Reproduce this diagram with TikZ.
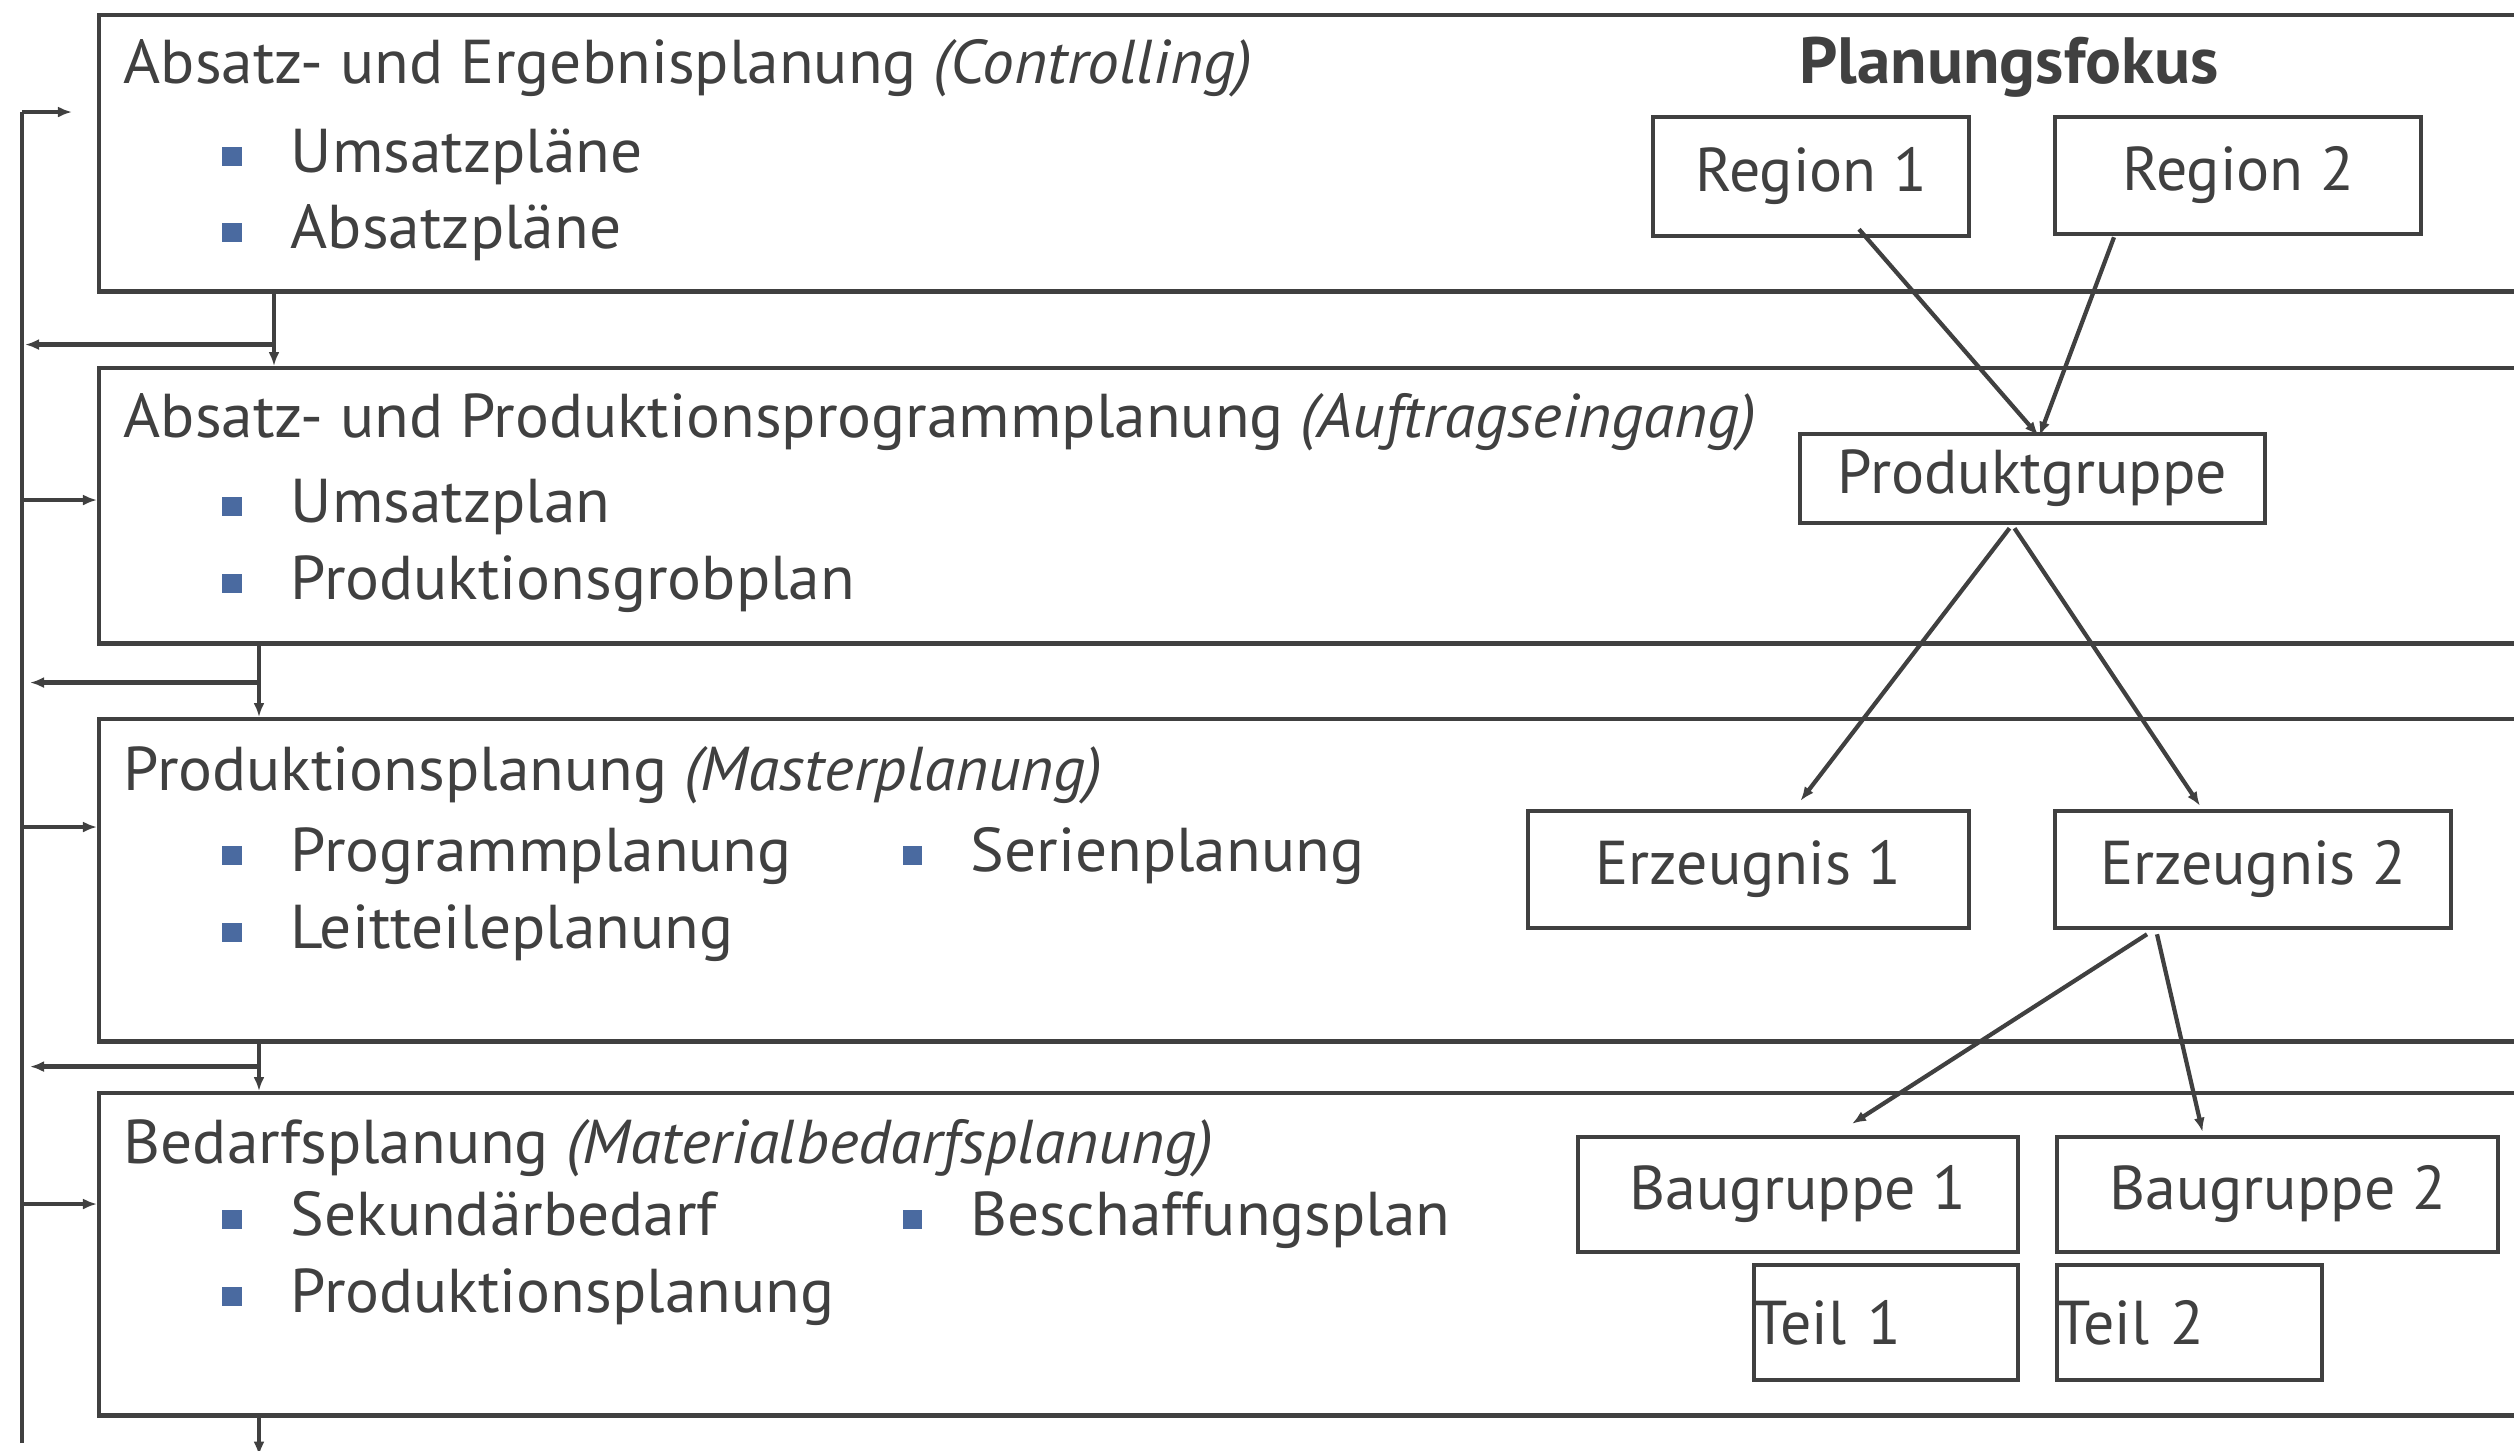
\documentclass[tikz,border=0pt]{standalone}
\usepackage{fontspec}
\setmainfont{PT Sans}[FakeStretch=1.025]
\newfontfamily\condfont{PT Sans}
\usetikzlibrary{arrows.meta,calc}
\definecolor{ink}{RGB}{64,64,64}
\definecolor{bul}{RGB}{74,106,160}
\tikzset{
  layer/.style={draw=ink, line width=1.25pt, rectangle, anchor=north west, inner sep=0pt, minimum width=25.5cm},
  ttl/.style={anchor=base west, inner sep=0pt, text=ink, font=\fontsize{17.6}{20}\selectfont},
  itm/.style={anchor=base west, inner sep=0pt, text=ink, font=\fontsize{17.6}{20}\selectfont},
  sq/.style={fill=bul, minimum size=0.19cm, inner sep=0pt},
  fbox/.style={draw=ink, line width=1.25pt, rectangle, inner sep=0pt, text=ink, font=\condfont\fontsize{17.6}{20}\selectfont},
  flow/.style={draw=ink, line width=1.2pt, -{Latex[length=0.14cm,width=0.11cm]}},
  plain/.style={draw=ink, line width=1.2pt}
}
\begin{document}
\begin{tikzpicture}[x=0.01cm,y=-0.01cm]
\useasboundingbox (0,0) rectangle (2514,1450);
\fill[white] (0,0) rectangle (2514,1450);
\clip (0,0) rectangle (2514,1450);

% layer boxes
\node[layer, minimum height=2.76cm] (L1) at (97,13) {};
\node[layer, minimum height=2.75cm] (L2) at (97,366) {};
\node[layer, minimum height=3.22cm] (L3) at (97,717) {};
\node[layer, minimum height=3.22cm] (L4) at (97,1091) {};

% box 1
\node[ttl] (t1) at (123,83) {Absatz- und Ergebnisplanung \textit{(Controlling)}};
\node[sq] (s11) at (232,156) {}; \node[itm] (i11) at (290,172) {Umsatzpläne};
\node[sq] (s12) at (232,232) {}; \node[itm] (i12) at (290,248) {Absatzpläne};
% box 2
\node[ttl] (t2) at (123,437) {Absatz- und Produktionsprogrammplanung \textit{(Auftragseingang)}};
\node[sq] (s21) at (232,506) {}; \node[itm] (i21) at (290,522) {Umsatzplan};
\node[sq] (s22) at (232,583) {}; \node[itm] (i22) at (290,599) {Produktionsgrobplan};
% box 3
\node[ttl] (t3) at (123,790) {Produktionsplanung \textit{(Masterplanung)}};
\node[sq] (s31) at (232,855) {}; \node[itm] (i31) at (290,871) {Programmplanung};
\node[sq] (s32) at (232,932) {}; \node[itm] (i32) at (290,948) {Leitteileplanung};
\node[sq] (s33) at (912,855) {}; \node[itm] (i33) at (970,871) {Serienplanung};
% box 4
\node[ttl] (t4) at (123,1163) {Bedarfsplanung \textit{(Materialbedarfsplanung)}};
\node[sq] (s41) at (232,1219) {}; \node[itm] (i41) at (290,1235) {Sekundärbedarf};
\node[sq] (s42) at (232,1296) {}; \node[itm] (i42) at (290,1312) {Produktionsplanung};
\node[sq] (s43) at (912,1219) {}; \node[itm] (i43) at (970,1235) {Beschaffungsplan};

% planning focus
\node[text=ink, font=\bfseries\fontsize{18.6}{21}\selectfont, inner sep=0pt] (pf) at (2009,67) {Planungsfokus};
\node[fbox, minimum width=3.16cm, minimum height=1.19cm] (r1) at (1811,176.5) {Region 1};
\node[fbox, minimum width=3.66cm, minimum height=1.17cm] (r2) at (2238,175.5) {Region 2};
\node[fbox, minimum width=4.65cm, minimum height=0.89cm] (pg) at (2032.5,478.5) {Produktgruppe};
\node[fbox, minimum width=4.41cm, minimum height=1.17cm] (e1) at (1748.5,869.5) {Erzeugnis 1};
\node[fbox, minimum width=3.96cm, minimum height=1.17cm] (e2) at (2253,869.5) {Erzeugnis 2};
\node[fbox, minimum width=4.40cm, minimum height=1.15cm] (b1) at (1798,1194.5) {Baugruppe 1};
\node[fbox, minimum width=4.41cm, minimum height=1.15cm] (b2) at (2277.5,1194.5) {Baugruppe 2};
\node[fbox, text width=2.64cm, align=left, minimum height=1.15cm] (p1) at (1886,1322.5) {Teil 1};
\node[fbox, text width=2.65cm, align=left, minimum height=1.15cm] (p2) at (2189.5,1322.5) {Teil 2};

\draw[flow] ($(r1.south)+(48,-9)$) -- ($(pg.north)+(6,4)$);
\draw[flow] ($(r2.south)+(-124,1)$) -- ($(pg.north)+(7,4)$);
\draw[flow] ($(pg.south)+(-23,3)$) -- ($(e1.north)+(52,-8)$);
\draw[flow] ($(pg.south)+(-18,3)$) -- ($(e2.north)+(-53,-3)$);
\draw[flow] ($(e2.south)+(-106,4)$) -- ($(b1.north)+(54,-11)$);
\draw[flow] ($(e2.south)+(-96,4)$) -- ($(b2.north)+(-75,-3)$);

% feedback loop
\coordinate (fbtop) at (22,112);
\coordinate (fbbot) at (22,1443);
\coordinate (fbin) at (72,112);
\draw[plain] (fbbot) -- (fbtop);
\draw[flow] (fbtop) -- (fbin);
\coordinate (a2) at ($(L2.north west)+(0,134)$);
\coordinate (a3) at ($(L3.north west)+(0,110)$);
\coordinate (a4) at ($(L4.north west)+(0,113)$);
\draw[flow] (fbtop |- a2) -- (a2);
\draw[flow] (fbtop |- a3) -- (a3);
\draw[flow] (fbtop |- a4) -- (a4);

% downward flow
\coordinate (d1) at ($(L1.south west)+(177,0)$);
\coordinate (d2) at ($(L2.south west)+(162,0)$);
\coordinate (d3) at ($(L3.south west)+(162,0)$);
\coordinate (d4) at ($(L4.south west)+(162,0)$);
\coordinate (g1) at ($(d1)+(0,51)$);
\coordinate (g2) at ($(d2)+(0,37)$);
\coordinate (g3) at ($(d3)+(0,23)$);
\draw[flow] (d1) -- (d1 |- L2.north);
\draw[flow] (d2) -- (d2 |- L3.north);
\draw[flow] (d3) -- (d3 |- L4.north);
\draw[flow] (d4) -- ($(d4)+(0,38)$);
\draw[flow] (g1) -- ($(fbtop |- g1)+(3,0)$);
\draw[flow] (g2) -- ($(fbtop |- g2)+(8,0)$);
\draw[flow] (g3) -- ($(fbtop |- g3)+(8,0)$);
\end{tikzpicture}
\end{document}
